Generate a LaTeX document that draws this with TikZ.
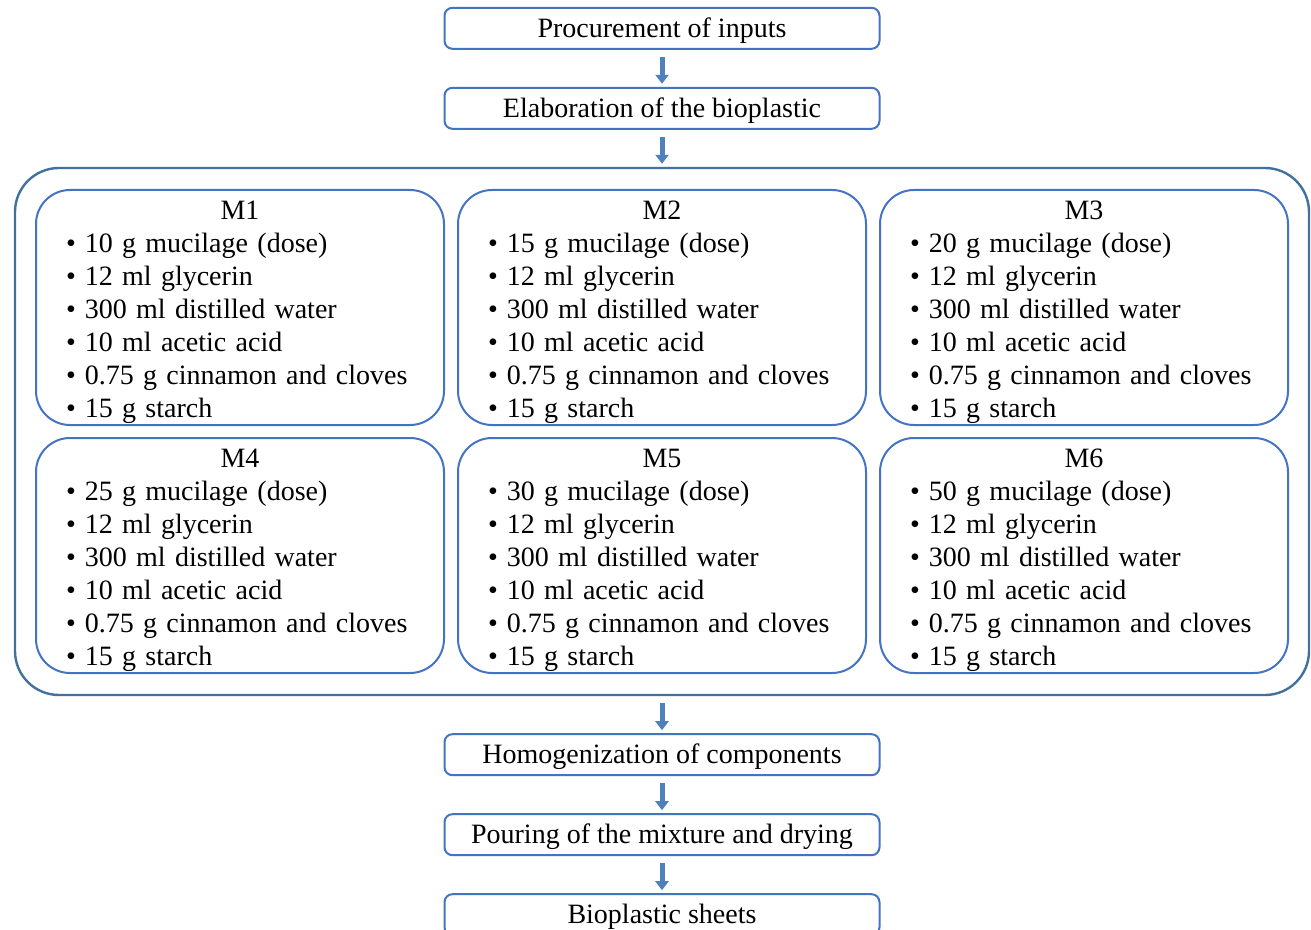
\documentclass[tikz,border=0pt]{standalone}
\usepackage{fontspec}
\setmainfont{Liberation Serif}
\usetikzlibrary{positioning,fit,arrows.meta}
\definecolor{kantblaa}{HTML}{4472C4}
\definecolor{rammeblaa}{HTML}{41719C}
\definecolor{pilblaa}{HTML}{4F81BD}
\newcommand{\punkt}{\textbullet\hspace{4.5pt}}
\newcommand{\oppskrift}[2]{%
\setlength{\parindent}{0pt}\setlength{\parskip}{0pt}%
{\centering\rule{0pt}{14pt}#1\par}%
\raggedright
\punkt #2 g mucilage (dose)\\
\punkt 12 ml glycerin\\
\punkt 300 ml distilled water\\
\punkt 10 ml acetic acid\\
\punkt 0.75 g cinnamon and cloves\\
\punkt 15 g starch}

\begin{document}
\begin{tikzpicture}[%
x=0.5pt,y=-0.5pt,
font=\fontsize{14}{16.5}\selectfont,
node distance=18.5pt,
prosess/.style={draw=kantblaa,line width=1pt,rounded corners=4pt,minimum width=217.5pt,minimum height=20.5pt,inner sep=0pt,text height=12pt,text depth=3pt},
blanding/.style={draw=kantblaa,line width=1pt,rounded corners=17pt,minimum width=204pt,minimum height=117.5pt,text width=174pt,inner xsep=15pt,inner ysep=0pt},
ramme/.style={draw=rammeblaa,line width=1.2pt,rounded corners=22pt,inner xsep=10pt,inner ysep=10.5pt},
pil/.style={-{Triangle[width=6.5pt,length=4.5pt]},line width=2.5pt,pilblaa,shorten <=3.5pt,shorten >=1.5pt}]
\path[use as bounding box,fill=white] (0,0) rectangle (1311,930);
% de seks blandingene
\node[blanding] (m1) at (240,307.5) {\oppskrift{M1}{10}};
\node[blanding,right=6pt of m1] (m2) {\oppskrift{M2}{15}};
\node[blanding,right=6pt of m2] (m3) {\oppskrift{M3}{20}};
\node[blanding,below=5.5pt of m1] (m4) {\oppskrift{M4}{25}};
\node[blanding,right=6pt of m4] (m5) {\oppskrift{M5}{30}};
\node[blanding,right=6pt of m5] (m6) {\oppskrift{M6}{50}};
\node[ramme,fit=(m1)(m6)] (alle) {};
% trinnene
\node[prosess,above=of alle] (elab) {Elaboration of the bioplastic};
\node[prosess,above=of elab] (innkjop) {Procurement of inputs};
\node[prosess,below=of alle] (homog) {Homogenization of components};
\node[prosess,below=of homog] (helling) {Pouring of the mixture and drying};
\node[prosess,below=of helling] (ark) {Bioplastic sheets};
\draw[pil] (innkjop) -- (elab);
\draw[pil] (elab)    -- (alle);
\draw[pil] (alle)    -- (homog);
\draw[pil] (homog)   -- (helling);
\draw[pil] (helling) -- (ark);
\end{tikzpicture}
\end{document}
